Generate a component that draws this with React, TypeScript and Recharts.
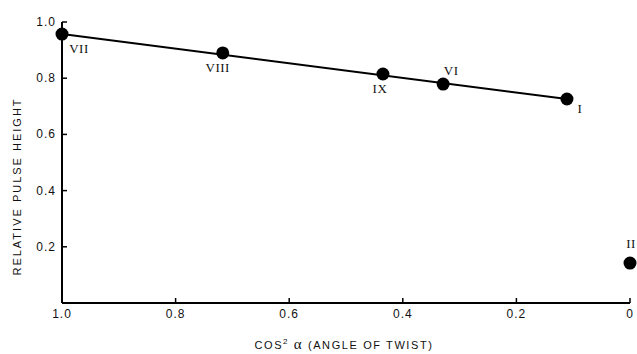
import React from "react";
import { ScatterChart, Scatter, XAxis, YAxis, LabelList } from "recharts";

const samples = ["VII", "VIII", "IX", "VI", "I", "II"];
const cos2Alpha = [1.0, 0.717, 0.435, 0.329, 0.111, 0.0];
const pulseHeight = [0.957, 0.89, 0.815, 0.779, 0.726, 0.142];

const fitX = [1.0, 0.111];
const fitY = [0.957, 0.726];

const xTicks = [1.0, 0.8, 0.6, 0.4, 0.2, 0];
const xTickLabels = ["1.0", "0.8", "0.6", "0.4", "0.2", "0"];
const yTicks = [0.2, 0.4, 0.6, 0.8, 1.0];
const yTickLabels = ["0.2", "0.4", "0.6", "0.8", "1.0"];

const points = samples.map((name, i) => ({ name, x: cos2Alpha[i], y: pulseHeight[i] }));
const fitLine = fitX.map((x, i) => ({ x, y: fitY[i] }));

const labelOffset: Record<string, [number, number]> = {
  VII: [17, 14],
  VIII: [-5, 15],
  IX: [-3, 15],
  VI: [8, -14],
  I: [13, 10],
  II: [1, -20],
};

const tickFont = "'Liberation Sans', Arial, sans-serif";

const XTick = (props: any) => {
  const { x, y, payload } = props;
  const idx = xTicks.indexOf(payload.value);
  return (
    <g>
      <line x1={x} y1={y} x2={x} y2={y - 5} stroke="#000" strokeWidth={1.5} />
      <text x={x} y={y + 15} textAnchor="middle" fontFamily={tickFont} fontSize={12} letterSpacing={1} fill="#111">
        {idx >= 0 ? xTickLabels[idx] : payload.value}
      </text>
    </g>
  );
};

const YTick = (props: any) => {
  const { x, y, payload } = props;
  const idx = yTicks.indexOf(payload.value);
  return (
    <g>
      <line x1={x} y1={y} x2={x + 5} y2={y} stroke="#000" strokeWidth={1.5} />
      <text x={x - 6} y={y} textAnchor="end" dominantBaseline="central" fontFamily={tickFont} fontSize={12} letterSpacing={1} fill="#111">
        {idx >= 0 ? yTickLabels[idx] : payload.value}
      </text>
    </g>
  );
};

const PointLabel = (props: any) => {
  const { x, y, width, height, value } = props;
  const cx = x + (width || 0) / 2;
  const cy = y + (height || 0) / 2;
  const off = labelOffset[value] || [0, 0];
  return (
    <text x={cx + off[0]} y={cy + off[1]} textAnchor="middle" dominantBaseline="central" fontFamily="'Liberation Serif', 'Times New Roman', serif" fontSize={13} letterSpacing={0.5} fill="#111">
      {value}
    </text>
  );
};

const XTitle = (props: any) => {
  const { viewBox } = props;
  const cx = viewBox.x + viewBox.width / 2;
  return (
    <text x={cx - 2} y={viewBox.y + 46} textAnchor="middle" fontFamily={tickFont} fontSize={11} letterSpacing={1.6} fill="#111">
      COS
      <tspan dy={-5} fontSize={8}>2</tspan>
      <tspan dy={5}> </tspan>
      <tspan fontFamily="'Liberation Serif', serif" fontSize={15}>α</tspan>
      <tspan> (ANGLE OF TWIST)</tspan>
    </text>
  );
};

const YTitle = (props: any) => {
  const { viewBox } = props;
  const cy = viewBox.y + viewBox.height / 2 + 24;
  const x = 17;
  return (
    <text x={x} y={cy} transform={`rotate(-90 ${x} ${cy})`} textAnchor="middle" dominantBaseline="central" fontFamily={tickFont} fontSize={11} letterSpacing={2} fill="#111">
      RELATIVE PULSE HEIGHT
    </text>
  );
};

const NoShape = () => <g />;

const Dot = (props: any) => <circle cx={props.cx} cy={props.cy} r={6.5} fill="#000" />;

export default function App() {
  return (
    <div style={{ position: "absolute", left: 0, top: 0, width: 637, height: 354, background: "#fff" }}>
      <ScatterChart width={637} height={354} margin={{ top: 22, right: 7, bottom: 21, left: 32 }}>
        <XAxis
          dataKey="x"
          type="number"
          domain={[0, 1]}
          reversed
          ticks={xTicks}
          interval={0}
          tickSize={0}
          tickMargin={0}
          tickLine={false}
          tick={<XTick />}
          height={30}
          axisLine={{ stroke: "#000", strokeWidth: 2 }}
          label={<XTitle />}
        />
        <YAxis
          dataKey="y"
          type="number"
          domain={[0, 1]}
          ticks={yTicks}
          interval={0}
          tickSize={0}
          tickMargin={0}
          tickLine={false}
          tick={<YTick />}
          width={30}
          axisLine={{ stroke: "#000", strokeWidth: 2 }}
          label={<YTitle />}
        />
        <Scatter data={fitLine} line={{ stroke: "#000", strokeWidth: 2 }} shape={<NoShape />} isAnimationActive={false} />
        <Scatter data={points} fill="#000" shape={<Dot />} isAnimationActive={false}>
          <LabelList dataKey="name" content={<PointLabel />} />
        </Scatter>
      </ScatterChart>
    </div>
  );
}
